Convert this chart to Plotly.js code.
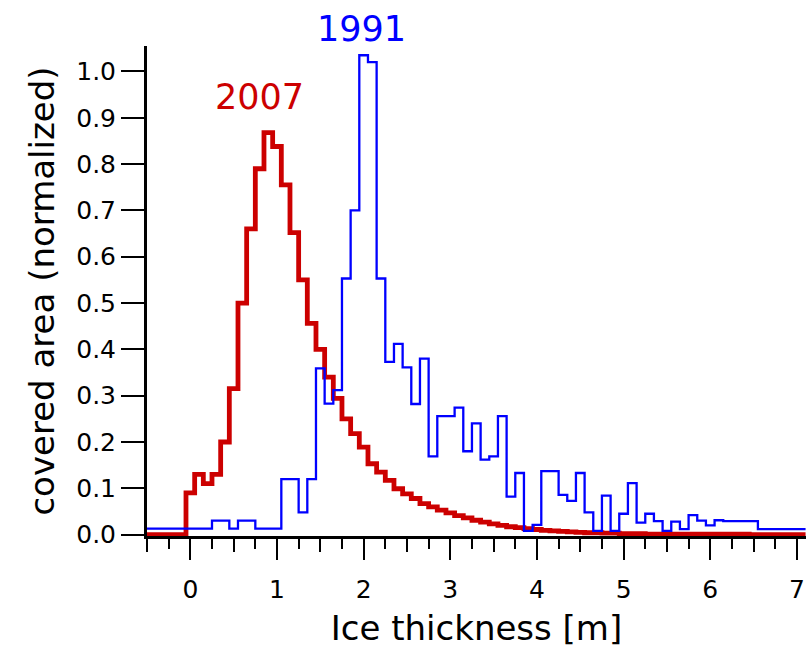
<!DOCTYPE html>
<html>
<head>
<meta charset="utf-8">
<script src="https://cdn.plot.ly/plotly-3.0.1.min.js"></script>
<style>html,body{margin:0;padding:0;background:#fff;}#chart{width:806px;height:657px;}</style>
</head>
<body>
<div id="chart"></div>
<script>
// Bin centres of ice thickness [m] (0.1 m bins)
var thickness = [-0.5,-0.4,-0.3,-0.2,-0.1,
  0.0,0.1,0.2,0.3,0.4,0.5,0.6,0.7,0.8,0.9,
  1.0,1.1,1.2,1.3,1.4,1.5,1.6,1.7,1.8,1.9,
  2.0,2.1,2.2,2.3,2.4,2.5,2.6,2.7,2.8,2.9,
  3.0,3.1,3.2,3.3,3.4,3.5,3.6,3.7,3.8,3.9,
  4.0,4.1,4.2,4.3,4.4,4.5,4.6,4.7,4.8,4.9,
  5.0,5.1,5.2,5.3,5.4,5.5,5.6,5.7,5.8,5.9,
  6.0,6.1,6.2,6.3,6.4,6.5,6.6,6.7,6.8,6.9,
  7.0,7.1];

// 2007 distribution (normalized covered area)
var area2007 = [0,0,0,0,0,
  0.09,0.13,0.11,0.13,0.20,0.315,0.50,0.66,0.79,0.868,
  0.838,0.755,0.652,0.55,0.456,0.40,0.34,0.294,0.25,0.218,
  0.189,0.153,0.135,0.117,0.099,0.088,0.078,0.067,0.060,0.053,
  0.047,0.041,0.036,0.031,0.027,0.023,0.020,0.017,0.015,0.013,
  0.011,0.009,0.008,0.007,0.006,0.005,0.004,0.004,0.003,0.003,
  0.002,0.002,0.002,0.001,0.001,0.001,0.001,0.001,0.001,0.001,
  0.001,0.001,0.001,0.001,0.001,0,0,0,0,0,
  0,0];

// 1991 distribution (normalized covered area)
var area1991 = [0.013,0.013,0.013,0.013,0.013,
  0.013,0.013,0.013,0.03,0.03,0.013,0.03,0.03,0.013,0.013,
  0.013,0.12,0.12,0.048,0.12,0.359,0.283,0.312,0.553,0.70,
  1.035,1.02,0.553,0.373,0.412,0.361,0.282,0.380,0.169,0.256,
  0.256,0.274,0.180,0.240,0.162,0.169,0.256,0.082,0.133,0.008,
  0.021,0.137,0.137,0.086,0.073,0.133,0.048,0.008,0.084,0.008,
  0.045,0.111,0.026,0.045,0.029,0.008,0.028,0.012,0.042,0.030,
  0.020,0.031,0.029,0.029,0.029,0.029,0.012,0.012,0.012,0.012,
  0.012,0.012];

var yTicks = [0,0.1,0.2,0.3,0.4,0.5,0.6,0.7,0.8,0.9,1.0];
var yTickText = ['0.0','0.1','0.2','0.3','0.4','0.5','0.6','0.7','0.8','0.9','1.0'];
var xTicks = [0,1,2,3,4,5,6,7];
var xHalfTicks = [-0.5,0.5,1.5,2.5,3.5,4.5,5.5,6.5];

var RED = '#cc0000', BLUE = '#0000ff';
var FONT = 'DejaVu Sans, Liberation Sans, Arial, sans-serif';
var xRange = [-0.5, 7.105];

var traces = [
  {x: thickness, y: area1991, type: 'scatter', mode: 'lines', name: '1991',
   xaxis: 'x2', yaxis: 'y',
   line: {color: BLUE, width: 2.3, shape: 'hvh'}, hoverinfo: 'x+y'},
  {x: thickness, y: area2007, type: 'scatter', mode: 'lines', name: '2007',
   xaxis: 'x', yaxis: 'y',
   line: {color: RED, width: 4.8, shape: 'hvh'}, hoverinfo: 'x+y'}
];

var layout = {
  width: 806, height: 657,
  margin: {l: 147, r: 0, t: 46, b: 121, pad: 0},
  paper_bgcolor: '#ffffff', plot_bgcolor: '#ffffff',
  showlegend: false,
  font: {family: FONT, color: '#000', size: 25},
  xaxis: {
    range: xRange, showgrid: false, zeroline: false,
    showline: true, linecolor: '#000', linewidth: 3,
    tickmode: 'array', tickvals: xTicks, ticktext: xTicks.map(String),
    ticks: 'outside', ticklen: 21, tickwidth: 2, tickcolor: '#000',
    ticklabelstandoff: 8,
    tickfont: {family: FONT, size: 25, color: '#000'},
    minor: {ticks: 'outside', tick0: 0, dtick: 0.25, ticklen: 10, tickwidth: 2, tickcolor: '#000', showgrid: false},
    title: {text: 'Ice thickness [m]', font: {family: FONT, size: 34, color: '#000'}, standoff: 14}
  },
  xaxis2: {
    overlaying: 'x', anchor: 'y', side: 'bottom', range: xRange,
    showgrid: false, zeroline: false, showline: false,
    tickmode: 'array', tickvals: xHalfTicks, showticklabels: false,
    ticks: 'outside', ticklen: 15, tickwidth: 2, tickcolor: '#000'
  },
  yaxis: {
    range: [-0.003, 1.055], showgrid: false, zeroline: false,
    showline: true, linecolor: '#000', linewidth: 3,
    tickmode: 'array', tickvals: yTicks, ticktext: yTickText,
    ticks: 'outside', ticklen: 23, tickwidth: 2, tickcolor: '#000',
    tickfont: {family: FONT, size: 25, color: '#000'},
    title: {text: 'covered area (normalized)', font: {family: FONT, size: 34, color: '#000'}, standoff: 12}
  },
  annotations: [
    {text: '2007', x: 0.80, y: 0.945, xref: 'x', yref: 'y', showarrow: false,
     xanchor: 'center', yanchor: 'middle', font: {family: FONT, size: 35, color: RED}},
    {text: '1991', x: 1.98, y: 1.035, xref: 'x', yref: 'paper', showarrow: false,
     xanchor: 'center', yanchor: 'middle', font: {family: FONT, size: 35, color: BLUE}}
  ]
};

Plotly.newPlot('chart', traces, layout, {displayModeBar: false, staticPlot: true});
</script>
</body>
</html>
